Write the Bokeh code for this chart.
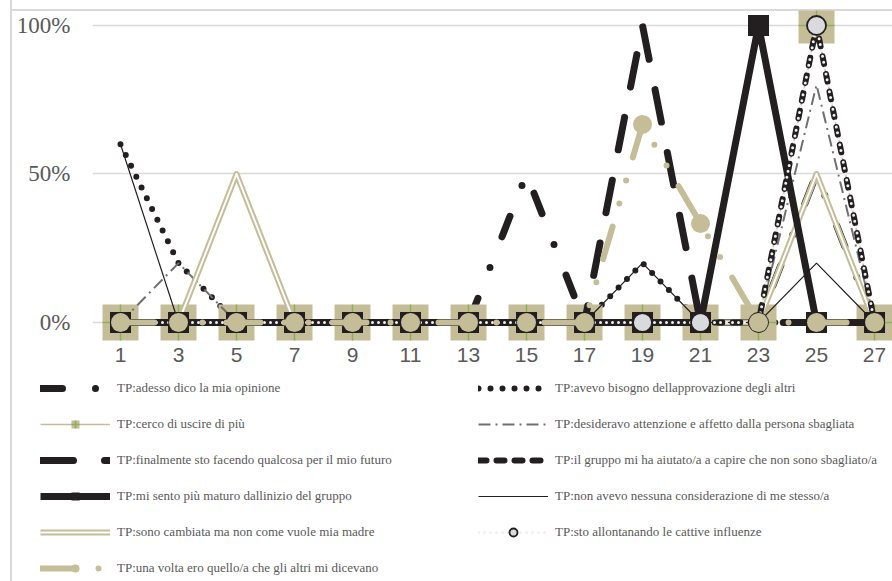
from bokeh.plotting import figure
from bokeh.models import (Legend, LegendItem, FixedTicker, NumeralTickFormatter, Range1d,
                          GlobalInlineStyleSheet)
from bokeh.embed import file_html
from bokeh.resources import INLINE

# Sessions on the x axis
sessions = [1, 3, 5, 7, 9, 11, 13, 15, 17, 19, 21, 23, 25, 27]
y_ticks = [0, 0.5, 1]

# Share of mentions per session for each theme
adesso = [0, 0, 0, 0, 0, 0, 0, 0.5, 0, 0, 0, 0, 0.5, 0]
avevo = [0.6, 0.2, 0, 0, 0, 0, 0, 0, 0, 0.2, 0, 0, 0, 0]
cerco = [0, 0, 0, 0, 0, 0, 0, 0, 0, 0, 0, 0, 1, 0]
desideravo = [0, 0.2, 0, 0, 0, 0, 0, 0, 0, 0, 0, 0, 0.8, 0]
finalmente = [0, 0, 0, 0, 0, 0, 0, 0, 0, 1, 0, 0, 0, 0]
gruppo = [0, 0, 0, 0, 0, 0, 0, 0, 0, 0, 0, 0, 1, 0]
maturo = [0, 0, 0, 0, 0, 0, 0, 0, 0, 0, 0, 1, 0, 0]
nessuna = [0.6, 0, 0, 0, 0, 0, 0, 0, 0, 0.2, 0, 0, 0.2, 0]
cambiata = [0, 0, 0.5, 0, 0, 0, 0, 0, 0, 0, 0, 0, 0.5, 0]
influenze = [0, 0, 0, 0, 0, 0, 0, 0, 0, 0, 0, 0, 1, 0]
una_volta = [0, 0, 0, 0, 0, 0, 0, 0, 0, 0.667, 0.333, 0, 0, 0]

labels = [
    "TP:adesso dico la mia opinione",
    "TP:avevo bisogno dellapprovazione degli altri",
    "TP:cerco di uscire di più",
    "TP:desideravo attenzione e affetto dalla persona sbagliata",
    "TP:finalmente sto facendo qualcosa per il mio futuro",
    "TP:il gruppo mi ha aiutato/a a capire che non sono sbagliato/a",
    "TP:mi sento più maturo dallinizio del gruppo",
    "TP:non avevo nessuna considerazione di me stesso/a",
    "TP:sono cambiata ma non come vuole mia madre",
    "TP:sto allontanando le cattive influenze",
    "TP:una volta ero quello/a che gli altri mi dicevano",
]

BLACK = "#231f20"
TAN = "#c4bd97"
GREY = "#707070"
GREEN = "#8db255"
PALE = "#d9dade"
TEXT = "#595959"
GRID = "#d9d9d9"

LEFT_RULE = f"linear-gradient({GRID}, {GRID}) 10px 0px / 2px 100% no-repeat"
TOP_RULE = f"linear-gradient({GRID}, {GRID}) 10px 9px / 100% 2px no-repeat"
NO_SCROLL = ":host { overflow: hidden; } * { scrollbar-width: none; }"
PAGE = GlobalInlineStyleSheet(
    css="html, body { margin: 0; overflow: hidden; scrollbar-width: none; }")


def add_series(fig):
    """Draw every theme on fig; returns the renderers grouped by theme."""
    x = sessions
    r = {}
    r["adesso"] = [fig.line(x, adesso, line_color=BLACK, line_width=7, line_dash="22 33 0 33",
                            line_cap="round", line_join="round")]
    r["avevo"] = [fig.line(x, avevo, line_color=BLACK, line_width=6, line_dash="0 12",
                           line_cap="round", line_join="round")]
    r["cerco"] = [
        fig.line(x, cerco, line_color=TAN, line_width=1.5),
        fig.scatter(x, cerco, marker="square", size=36, fill_color=TAN, line_color=None),
        fig.scatter(x, cerco, marker="cross", size=36, line_color=GREEN, line_width=1.5),
    ]
    r["desideravo"] = [fig.line(x, desideravo, line_color=GREY, line_width=2,
                                line_dash="12 5 2 5")]
    r["finalmente"] = [fig.line(x, finalmente, line_color=BLACK, line_width=7,
                                line_dash="33 31", line_cap="round", line_join="round")]
    r["cambiata"] = [
        fig.line(x, cambiata, line_color=TAN, line_width=6, line_join="round"),
        fig.line(x, cambiata, line_color="white", line_width=2, line_join="round"),
    ]
    r["gruppo"] = [fig.line(x, gruppo, line_color=BLACK, line_width=6, line_dash="8 10",
                            line_cap="round", line_join="round")]
    r["maturo"] = [
        fig.line(x, maturo, line_color=BLACK, line_width=7, line_join="round"),
        fig.scatter(x, maturo, marker="square", size=21, fill_color=BLACK, line_color=None),
    ]
    r["nessuna"] = [fig.line(x, nessuna, line_color=BLACK, line_width=1.2)]
    r["influenze"] = [
        fig.line(x, influenze, line_color="#f0f0f0", line_width=3, line_dash="0 6",
                 line_cap="round", line_join="round"),
        fig.scatter(x, influenze, marker="circle", size=19, fill_color=PALE,
                    line_color=BLACK, line_width=1.8),
    ]
    r["una_volta"] = [
        fig.line(x, una_volta, line_color=TAN, line_width=6, line_dash="34 24 0 24 0 24",
                 line_cap="round", line_join="round"),
        fig.scatter(x, una_volta, marker="circle", size=19, fill_color=TAN, line_color=None),
    ]
    return r


def bare(fig):
    fig.title.visible = False
    fig.border_fill_color = None
    fig.background_fill_color = None
    fig.outline_line_color = None
    fig.stylesheets = [NO_SCROLL, PAGE]


# ---- chart ----
p = figure(
    width=892, height=370,
    x_range=Range1d(0.0345, 27.62), y_range=Range1d(-0.064, 1.0505),
    output_backend="svg", toolbar_location=None,
    min_border_left=92, min_border_right=0, min_border_top=10, min_border_bottom=29,
)
bare(p)
p.styles = {"background": f"{LEFT_RULE}, {TOP_RULE}, white"}

p.xgrid.grid_line_color = None
p.ygrid.grid_line_color = GRID
p.ygrid.grid_line_width = 1.5
p.ygrid.ticker = FixedTicker(ticks=y_ticks)

p.yaxis.ticker = FixedTicker(ticks=y_ticks)
p.yaxis.formatter = NumeralTickFormatter(format="0%")
p.xaxis.ticker = FixedTicker(ticks=sessions)
for ax, font, size, standoff in ((p.yaxis, "Liberation Serif", "23px", 16),
                                 (p.xaxis, "Liberation Sans", "21px", 0)):
    ax.axis_line_color = None
    ax.major_tick_line_color = None
    ax.minor_tick_line_color = None
    ax.major_label_text_font = font
    ax.major_label_text_font_size = size
    ax.major_label_text_color = TEXT
    ax.major_label_standoff = standoff

add_series(p)

# ---- legend panel (its series sit far outside its visible range) ----
lg = figure(
    width=892, height=211,
    x_range=Range1d(-200, -199), y_range=Range1d(-200, -199),
    x_axis_type=None, y_axis_type=None,
    output_backend="svg", toolbar_location=None,
    min_border_left=0, min_border_right=0, min_border_top=0, min_border_bottom=0,
)
bare(lg)
lg.xgrid.visible = False
lg.ygrid.visible = False
lg.styles = {"background": f"{LEFT_RULE}, white"}

lr = add_series(lg)
keys = ["adesso", "avevo", "cerco", "desideravo", "finalmente", "gruppo",
        "maturo", "nessuna", "cambiata", "influenze", "una_volta"]
items = [LegendItem(label=lab, renderers=lr[k]) for k, lab in zip(keys, labels)]


def make_legend(its, loc):
    return Legend(items=its, location=loc, orientation="vertical",
                  glyph_width=70, glyph_height=20, label_height=20, label_standoff=7,
                  spacing=16, padding=0, margin=0,
                  label_text_font="Liberation Serif", label_text_font_size="13px",
                  label_text_color=TEXT, background_fill_alpha=0, border_line_color=None)


lg.add_layout(make_legend(items[0::2], (40, 3)), "center")
lg.add_layout(make_legend(items[1::2], (478, 39)), "center")

open("out.html", "w").write(file_html([p, lg], INLINE))
